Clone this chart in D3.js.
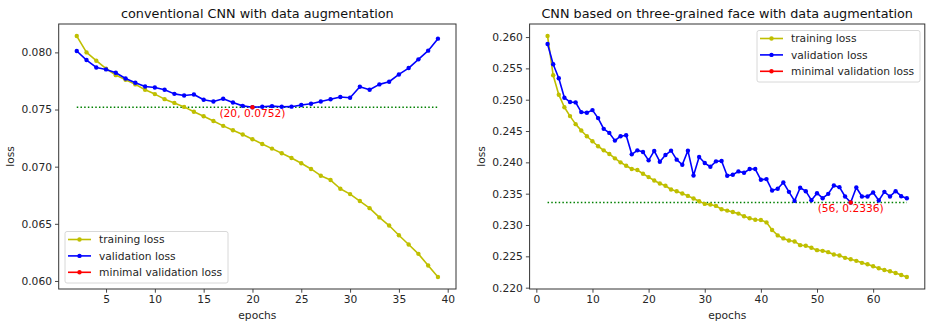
<!DOCTYPE html>
<html>
<head>
<meta charset="utf-8">
<script src="https://cdn.jsdelivr.net/npm/d3@7"></script>
<style>
  body { margin: 0; background: #fff; }
  svg { display: block; font-family: "DejaVu Sans", sans-serif; }
</style>
</head>
<body>
<svg id="chart" width="926" height="327"></svg>
<script>
// left panel: conventional CNN
const leftEpochs = [2,3,4,5,6,7,8,9,10,11,12,13,14,15,16,17,18,19,20,21,22,23,24,25,26,27,28,29,30,31,32,33,34,35,36,37,38,39]
const leftTrain = [0.08143,0.0800,0.07927,0.07857,0.07801,0.0776,0.0772,0.07673,0.07635,0.07591,0.07558,0.07523,0.0748,0.07441,
  0.0740,0.07357,0.07319,0.07281,0.0724,0.07199,0.07158,0.07117,0.07076,0.0703,0.0698,0.06921,0.06883,0.06807,0.0676,
  0.06699,0.06637,0.06556,0.06485,0.0640,0.06319,0.06237,0.06135,0.06035]
const leftVal = [0.08012,0.07933,0.07868,0.07851,0.07822,0.07772,0.07734,0.07702,0.07693,0.07673,0.07637,0.07623,0.07632,0.07585,
  0.0757,0.07594,0.07561,0.07532,0.0752,0.07524,0.0753,0.07524,0.07525,0.0754,0.0755,0.0757,0.0759,0.0761,0.07603,
  0.07699,0.07673,0.0772,0.07743,0.07807,0.07863,0.07939,0.08015,0.0812]
const leftXTicks = [5,10,15,20,25,30,35,40]
const leftYTicks = [0.060,0.065,0.070,0.075,0.080]

// right panel: three-grained face CNN
const rightEpochs = [2,3,4,5,6,7,8,9,10,11,12,13,14,15,16,17,18,19,20,21,22,23,24,25,26,27,28,29,30,31,32,33,34,
  35,36,37,38,39,40,41,42,43,44,45,46,47,48,49,50,51,52,53,54,55,56,57,58,59,60,61,62,63,64,65,66]
const rightTrain = [0.26016,0.2539,0.2508,0.2488,0.24738,0.2461,0.24508,0.24417,0.24337,0.24257,0.24192,0.24134,0.24064,0.2400,
  0.23946,0.23893,0.23877,0.23818,0.23765,0.23711,0.23663,0.23626,0.23567,0.2354,0.23503,0.23465,0.23422,0.2338,0.23337,
  0.23326,0.23305,0.23251,0.2323,0.23208,0.23182,0.23139,0.23107,0.23085,0.2308,0.23042,0.2292,0.22834,0.22786,0.22754,
  0.22738,0.22679,0.22668,0.22636,0.22599,0.22588,0.22567,0.22529,0.22513,0.22476,0.22454,0.22428,0.22396,0.22374,0.22342,
  0.2231,0.22283,0.22262,0.22235,0.22203,0.22171]
const rightVal = [0.2589,0.25567,0.25342,0.25032,0.24963,0.24957,0.24802,0.24791,0.24834,0.24706,0.24535,0.2447,0.24347,0.24417,
  0.24433,0.24128,0.24192,0.24166,0.24032,0.24182,0.2401,0.24117,0.24187,0.24043,0.23962,0.24187,0.23791,0.24085,0.23989,
  0.2393,0.24016,0.24021,0.23786,0.23802,0.23856,0.23834,0.23893,0.23893,0.23722,0.23733,0.23551,0.23578,0.23679,0.23529,
  0.23385,0.23594,0.2354,0.23396,0.23508,0.23428,0.23497,0.2363,0.23604,0.23455,0.2336,0.23599,0.23455,0.23455,0.23519,
  0.23391,0.23529,0.23455,0.2354,0.2346,0.23428]
const rightXTicks = [0,10,20,30,40,50,60]
const rightYTicks = [0.220,0.225,0.230,0.235,0.240,0.245,0.250,0.255,0.260]

const legendNames = ["training loss", "validation loss", "minimal validation loss"]
const colors = { train: "#bfbf00", val: "#0000ff", min: "#ff0000", ref: "#008000" }
const fs = 10.7

const svg = d3.select("#chart")

function panel(cfg) {
  const { left, right, top, bottom, epochs, train, val, xTicks, yTicks, title, legendPos } = cfg
  const g = svg.append("g")

  // matplotlib-ish 5% margins
  const xExt = d3.extent(epochs), xPad = (xExt[1] - xExt[0]) * 0.05
  const allY = train.concat(val)
  const yExt = d3.extent(allY), yPad = (yExt[1] - yExt[0]) * 0.05
  const x = d3.scaleLinear().domain([xExt[0] - xPad, xExt[1] + xPad]).range([left, right])
  const y = d3.scaleLinear().domain([yExt[0] - yPad, yExt[1] + yPad]).range([bottom, top])

  // axes
  const xAxis = g.append("g").attr("transform", `translate(0,${bottom})`)
    .call(d3.axisBottom(x).tickValues(xTicks).tickSize(3.7).tickPadding(3).tickFormat(d3.format("d")))
  const yAxis = g.append("g").attr("transform", `translate(${left},0)`)
    .call(d3.axisLeft(y).tickValues(yTicks).tickSize(3.7).tickPadding(3).tickFormat(d3.format(".3f")))
  for (const ax of [xAxis, yAxis]) {
    ax.select(".domain").remove()
    ax.selectAll("line").attr("stroke", "#333").attr("stroke-width", 0.9)
    ax.selectAll("text").attr("font-size", fs).attr("fill", "#262626").attr("font-family", "DejaVu Sans")
  }

  // reference line at minimal validation loss
  const minIdx = d3.minIndex(val)
  const minE = epochs[minIdx], minV = val[minIdx]
  g.append("line")
    .attr("x1", x(xExt[0])).attr("x2", x(xExt[1]))
    .attr("y1", y(minV)).attr("y2", y(minV))
    .attr("stroke", colors.ref).attr("stroke-width", 1.5).attr("stroke-dasharray", "1.5,2.2")

  const line = d3.line().x((d, i) => x(epochs[i])).y(d => y(d))
  const series = [[train, colors.train], [val, colors.val]]
  for (const [vals, c] of series) {
    g.append("path").datum(vals).attr("d", line)
      .attr("fill", "none").attr("stroke", c).attr("stroke-width", 1.6).attr("stroke-linejoin", "round")
    g.append("g").selectAll("circle").data(vals).join("circle")
      .attr("cx", (d, i) => x(epochs[i])).attr("cy", d => y(d)).attr("r", 2.2).attr("fill", c)
  }

  // minimal point + label
  g.append("circle").attr("cx", x(minE)).attr("cy", y(minV)).attr("r", 2.2).attr("fill", colors.min)
  g.append("text").attr("x", x(minE)).attr("y", y(minV) + 9.5)
    .attr("text-anchor", "middle").attr("font-size", fs).attr("fill", colors.min)
    .text(`(${minE}, ${minV})`)

  // frame
  g.append("rect").attr("x", left).attr("y", top).attr("width", right - left).attr("height", bottom - top)
    .attr("fill", "none").attr("stroke", "#333").attr("stroke-width", 1)

  // titles and labels
  g.append("text").attr("x", (left + right) / 2).attr("y", 17.5).attr("text-anchor", "middle")
    .attr("font-size", 12.8).attr("fill", "#111").text(title)
  g.append("text").attr("x", (left + right) / 2).attr("y", 319).attr("text-anchor", "middle")
    .attr("font-size", fs).attr("fill", "#262626").text("epochs")
  g.append("text").attr("transform", `translate(${left - 45},${(top + bottom) / 2}) rotate(-90)`)
    .attr("text-anchor", "middle").attr("font-size", fs).attr("fill", "#262626").text("loss")

  // legend
  const lg = g.append("g").attr("transform", `translate(${legendPos[0]},${legendPos[1]})`)
  lg.append("rect").attr("width", legendPos[2]).attr("height", 51.5).attr("rx", 2)
    .attr("fill", "#fff").attr("fill-opacity", 0.8).attr("stroke", "#d4d4d4").attr("stroke-width", 0.9)
  const lc = [colors.train, colors.val, colors.min]
  legendNames.forEach((name, i) => {
    const yy = 8 + i * 16.4
    lg.append("line").attr("x1", 3).attr("x2", 26).attr("y1", yy).attr("y2", yy)
      .attr("stroke", lc[i]).attr("stroke-width", 1.6)
    lg.append("circle").attr("cx", 14.5).attr("cy", yy).attr("r", 2.2).attr("fill", lc[i])
    lg.append("text").attr("x", 34).attr("y", yy + 3.8).attr("font-size", fs).attr("fill", "#262626").text(name)
  })
}

panel({
  left: 58.7, right: 456, top: 24, bottom: 289,
  epochs: leftEpochs, train: leftTrain, val: leftVal,
  xTicks: leftXTicks, yTicks: leftYTicks,
  title: "conventional CNN with data augmentation",
  legendPos: [65, 231.5, 163]
})
panel({
  left: 529.6, right: 924.8, top: 24, bottom: 289,
  epochs: rightEpochs, train: rightTrain, val: rightVal,
  xTicks: rightXTicks, yTicks: rightYTicks,
  title: "CNN based on three-grained face with data augmentation",
  legendPos: [757, 30.5, 163]
})
</script>
</body>
</html>
